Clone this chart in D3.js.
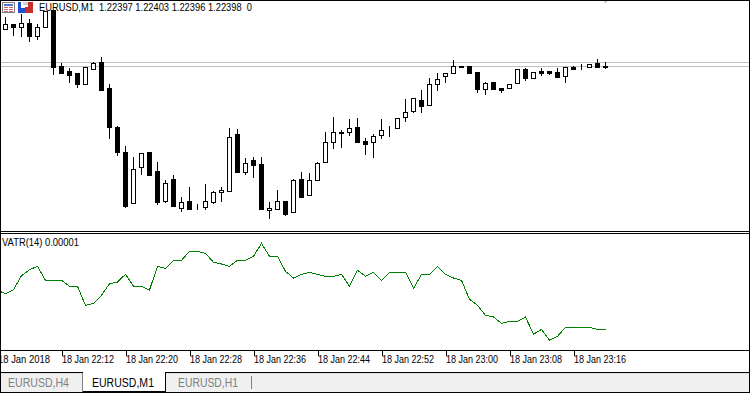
<!DOCTYPE html>
<html>
<head>
<meta charset="utf-8">
<script src="https://cdn.jsdelivr.net/npm/d3@7"></script>
<style>
  html, body { margin: 0; padding: 0; background: #fff; overflow: hidden; }
  svg { display: block; }
  text { font-family: "Liberation Sans", sans-serif; }
</style>
</head>
<body>
<div id="chart"></div>
<script>
// EURUSD M1 bars
const opens = [1.22435,1.22440,1.22437,1.22441,1.22428,1.22437,1.22454,1.22398,1.22393,1.22391,1.22380,1.22395,1.22402,1.22376,1.22337,1.22312,1.22261,1.22297,1.22312,1.22293,1.22263,1.22285,1.22256,1.22263,1.22258,1.22257,1.22262,1.22272,1.22273,1.22330,1.22292,1.22304,1.22300,1.22254,1.22255,1.22263,1.22252,1.22285,1.22269,1.22284,1.22302,1.22322,1.22332,1.22332,1.22337,1.22323,1.22322,1.22329,1.22336,1.22336,1.22347,1.22353,1.22364,1.22359,1.22380,1.22388,1.22391,1.22398,1.22398,1.22392,1.22375,1.22382,1.22376,1.22376,1.22381,1.22395,1.22386,1.22393,1.22393,1.22392,1.22388,1.22397,1.22397,1.22397,1.22401,1.22397];
const highs = [1.22448,1.22441,1.22451,1.22446,1.22441,1.22453,1.22454,1.22402,1.22397,1.22392,1.22397,1.22403,1.22408,1.22381,1.22339,1.22319,1.22308,1.22311,1.22312,1.22303,1.22285,1.22290,1.22268,1.22278,1.22261,1.22281,1.22274,1.22278,1.22337,1.22336,1.22307,1.22308,1.22308,1.22263,1.22275,1.22263,1.22286,1.22293,1.22292,1.22303,1.22333,1.22348,1.22335,1.22346,1.22347,1.22327,1.22331,1.22346,1.22339,1.22347,1.22366,1.22366,1.22375,1.22387,1.22392,1.22392,1.22405,1.22399,1.22398,1.22392,1.22383,1.22382,1.22376,1.22380,1.22395,1.22397,1.22392,1.22397,1.22393,1.22397,1.22397,1.22399,1.22401,1.22400,1.22406,1.22403];
const lows = [1.22435,1.22429,1.22428,1.22423,1.22425,1.22437,1.22390,1.22391,1.22382,1.22377,1.22380,1.22395,1.22374,1.22326,1.22309,1.22257,1.22261,1.22290,1.22289,1.22260,1.22262,1.22258,1.22253,1.22255,1.22255,1.22255,1.22261,1.22263,1.22273,1.22292,1.22290,1.22287,1.22255,1.22246,1.22255,1.22249,1.22252,1.22267,1.22269,1.22284,1.22302,1.22316,1.22317,1.22329,1.22322,1.22310,1.22307,1.22326,1.22328,1.22336,1.22343,1.22352,1.22352,1.22359,1.22374,1.22382,1.22391,1.22397,1.22391,1.22372,1.22370,1.22375,1.22372,1.22376,1.22381,1.22384,1.22386,1.22389,1.22390,1.22387,1.22382,1.22395,1.22395,1.22397,1.22397,1.22396];
const closes = [1.22440,1.22437,1.22441,1.22428,1.22437,1.22453,1.22397,1.22391,1.22389,1.22380,1.22397,1.22401,1.22374,1.22337,1.22312,1.22258,1.22295,1.22311,1.22289,1.22262,1.22281,1.22258,1.22262,1.22255,1.22258,1.22263,1.22272,1.22274,1.22327,1.22292,1.22301,1.22299,1.22255,1.22256,1.22263,1.22250,1.22284,1.22267,1.22284,1.22301,1.22322,1.22332,1.22331,1.22336,1.22322,1.22320,1.22328,1.22334,1.22336,1.22346,1.22352,1.22366,1.22358,1.22380,1.22385,1.22391,1.22398,1.22397,1.22391,1.22375,1.22381,1.22375,1.22374,1.22380,1.22395,1.22386,1.22392,1.22391,1.22391,1.22387,1.22397,1.22395,1.22397,1.22400,1.22397,1.22398];

// bid and ask lines
const priceLines = [1.22402, 1.22398];

// VATR(14), first value belongs to the bar just off the left edge
const vatrStart = -1;
const vatr = [233,223,235,277,295,305,263,263,263,245,245,188,194,218,253,258,281,245,245,234,305,299,323,323,350,350,344,317,312,305,323,323,335,374,335,335,290,270,281,287,281,275,275,281,245,293,275,287,263,287,287,287,239,281,281,305,281,270,263,206,188,158,153,134,140,140,153,101,116,83,95,122,122,122,122,116,116];

const tickBars = [-1, 7, 15, 23, 31, 39, 47, 55, 63, 71];
const tickLabels = ["18 Jan 2018", "18 Jan 22:12", "18 Jan 22:20", "18 Jan 22:28", "18 Jan 22:36", "18 Jan 22:44", "18 Jan 22:52", "18 Jan 23:00", "18 Jan 23:08", "18 Jan 23:16"];
const headerText = "EURUSD,M1  1.22397 1.22403 1.22396 1.22398  0";
const vatrText = "VATR(14) 0.00001";
const tabs = ["EURUSD,H4", "EURUSD,M1", "EURUSD,H1"];

const width = 750;
const height = 393;

const svg = d3.select("#chart").append("svg")
    .attr("width", width)
    .attr("height", height)
    .attr("viewBox", [0, 0, width, height]);

svg.append("rect").attr("width", width).attr("height", height).attr("fill", "#fff");

const x = d3.scaleLinear().domain([0, 75]).range([5.5, 605.5]);
const y = d3.scaleLinear().domain([1.22464, 1.22233]).range([0, 231]);
const yVatr = d3.scaleLinear().domain([0, 420]).range([368, 228]);
const snap = v => Math.round(v) + 0.5;

// Price lines go under the candles.
svg.append("g").selectAll("line")
    .data(priceLines)
    .join("line")
    .attr("x1", 1)
    .attr("x2", width - 1)
    .attr("y1", d => snap(y(d)))
    .attr("y2", d => snap(y(d)))
    .attr("stroke", "#c0c0c0")
    .attr("shape-rendering", "crispEdges");

const bars = svg.append("g").selectAll("g")
    .data(opens.map((o, i) => ({i, o, h: highs[i], l: lows[i], c: closes[i]})))
    .join("g")
    .attr("shape-rendering", "crispEdges");

bars.append("line")
    .attr("x1", d => x(d.i))
    .attr("x2", d => x(d.i))
    .attr("y1", d => snap(y(d.h)))
    .attr("y2", d => snap(y(d.l)) + 0.5)
    .attr("stroke", "#000");

bars.append("rect")
    .attr("x", d => x(d.i) - 2)
    .attr("width", 4)
    .attr("y", d => snap(y(Math.max(d.o, d.c))))
    .attr("height", d => Math.abs(snap(y(d.o)) - snap(y(d.c))))
    .attr("fill", d => d.c >= d.o ? "#fff" : "#000")
    .attr("stroke", "#000");

// The VATR panel
svg.append("clipPath").attr("id", "vatr-clip")
    .append("rect").attr("x", 1).attr("y", 234).attr("width", width - 2).attr("height", 116);

svg.append("path")
    .datum(vatr)
    .attr("clip-path", "url(#vatr-clip)")
    .attr("fill", "none")
    .attr("stroke", "#008000")
    .attr("shape-rendering", "crispEdges")
    .attr("d", d3.line().x((d, i) => x(i + vatrStart)).y(d => yVatr(d)));

// Time axis, labels sit to the right of the ticks.
const timeAxis = svg.append("g")
    .attr("transform", "translate(0,350.5)")
    .call(d3.axisBottom(x)
        .tickValues(tickBars)
        .tickFormat((d, i) => tickLabels[i])
        .tickSizeInner(5)
        .tickSizeOuter(0));
timeAxis.select(".domain").remove();
timeAxis.selectAll("line").attr("stroke", "#000").attr("shape-rendering", "crispEdges");
timeAxis.selectAll("text")
    .attr("text-anchor", "start")
    .attr("x", 0)
    .attr("y", 12.5)
    .attr("dy", 0)
    .attr("fill", "#000")
    .attr("font-size", 10.4)
    .attr("font-family", "Liberation Sans")
    .attr("textLength", 52)
    .attr("lengthAdjust", "spacingAndGlyphs");

// Tab bar
svg.append("rect").attr("x", 0).attr("y", 373).attr("width", width).attr("height", 19).attr("fill", "#f0f0f0");
svg.append("rect").attr("x", 0).attr("y", 373).attr("width", width).attr("height", 1).attr("fill", "#e0e0e0");
svg.append("rect").attr("x", 83).attr("y", 372).attr("width", 82).attr("height", 19).attr("fill", "#fff");

const frame = [
    [0, 0, width, 1], [0, 231, width, 1], [0, 233, width, 1], [0, 350, width, 1],
    [0, 372, 83, 1], [165, 372, width - 165, 1], [0, 392, width, 1], [83, 391, 82, 1],
    [0, 0, 1, height], [width - 1, 0, 1, height], [165, 372, 1, 20]
];
svg.append("g").selectAll("rect")
    .data(frame)
    .join("rect")
    .attr("x", d => d[0]).attr("y", d => d[1]).attr("width", d => d[2]).attr("height", d => d[3])
    .attr("fill", "#000");

svg.append("rect").attr("x", 82).attr("y", 373).attr("width", 1).attr("height", 19).attr("fill", "#808080");
svg.append("rect").attr("x", 251).attr("y", 376).attr("width", 1).attr("height", 13).attr("fill", "#808080");

svg.append("g").selectAll("text")
    .data(tabs)
    .join("text")
    .attr("x", (d, i) => [8, 92, 178][i])
    .attr("y", 387)
    .attr("font-size", 12.5)
    .attr("textLength", (d, i) => [61, 62, 60][i])
    .attr("lengthAdjust", "spacingAndGlyphs")
    .attr("fill", (d, i) => i === 1 ? "#000" : "#808080")
    .text(d => d);

// Chart header with its two little icons
const icons = svg.append("g").attr("shape-rendering", "crispEdges");
icons.append("rect").attr("x", 2.5).attr("y", 2.5).attr("width", 12).attr("height", 10).attr("fill", "#fff").attr("stroke", "#808080");
icons.append("rect").attr("x", 4).attr("y", 4).attr("width", 9).attr("height", 2).attr("fill", "#5078c8");
d3.range(3).forEach(i => {
    icons.append("rect").attr("x", 4).attr("y", 7 + i * 2).attr("width", 4).attr("height", 1).attr("fill", "#d06060");
    icons.append("rect").attr("x", 9).attr("y", 7 + i * 2).attr("width", 4).attr("height", 1).attr("fill", "#d06060");
});
icons.append("rect").attr("x", 18).attr("y", 2).attr("width", 7).attr("height", 11).attr("fill", "#2050d0");
icons.append("rect").attr("x", 21).attr("y", 2).attr("width", 4).attr("height", 6).attr("fill", "#fff");
icons.append("rect").attr("x", 25).attr("y", 7).attr("width", 8).attr("height", 6).attr("fill", "#c83030");
icons.append("rect").attr("x", 28).attr("y", 2).attr("width", 5).attr("height", 6).attr("fill", "#c83030");
icons.append("rect").attr("x", 23).attr("y", 2).attr("width", 5).attr("height", 3).attr("fill", "#d0d0d0");

svg.append("text")
    .attr("x", 39)
    .attr("y", 11)
    .attr("font-size", 10.6)
    .attr("textLength", 213)
    .attr("lengthAdjust", "spacingAndGlyphs")
    .style("white-space", "pre")
    .text(headerText);

svg.append("text")
    .attr("x", 2)
    .attr("y", 246)
    .attr("font-size", 10.6)
    .attr("textLength", 77)
    .attr("lengthAdjust", "spacingAndGlyphs")
    .text(vatrText);

// Small grey mark at the top edge above the last bar
svg.append("path")
    .attr("d", `M${x(75) - 2},1L${x(75) + 2},1L${x(75) + 1},2L${x(75)},3.5L${x(75) - 1},2Z`)
    .attr("fill", "#c0c0c0");
</script>
</body>
</html>
